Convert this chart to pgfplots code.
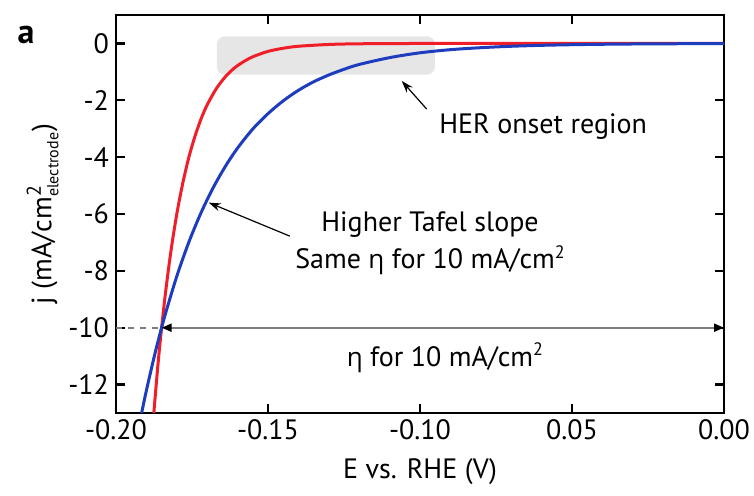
\documentclass[border=0pt]{standalone}
\usepackage{pgfplots}
\pgfplotsset{compat=1.18}
\usepackage{fontspec}
\setmainfont{PT Sans}
\newfontfamily\grk{Open Sans}
\usetikzlibrary{arrows.meta}
\definecolor{cred}{RGB}{240,30,40}
\definecolor{cblue}{RGB}{30,60,190}
\definecolor{boxgray}{RGB}{230,230,230}
\definecolor{arrgray}{RGB}{125,125,125}
\newcommand{\eeta}{{\grk\fontsize{13}{17}\selectfont η}}
\newcommand{\sq}{\raisebox{0.75ex}{\fontsize{9}{9}\selectfont 2}}
\begin{document}
\begin{tikzpicture}[font=\fontsize{14}{17}\selectfont]
\begin{axis}[
  name=ax,
  scale only axis,
  width=304pt, height=199pt,
  xmin=-0.2, xmax=0, ymin=-13, ymax=1,
  axis line style={line width=1.2pt},
  tick style={line width=1.2pt, black},
  tick align=inside,
  major tick length=4.5pt,
  xtick={-0.2,-0.15,-0.1,-0.05,0},
  xticklabels={-0.20,-0.15,-0.10,0.05,0.00},
  ytick={-12,-10,-8,-6,-4,-2,0},
  yticklabels={-12,-10,-8,-6,-4,-2,0},
  xlabel={E vs. RHE (V)},
  ylabel={j (mA/cm$^{\mbox{\fontsize{10}{10}\selectfont 2}}_{\mbox{\fontsize{8}{8}\selectfont electrode}}$)},
  ylabel style={yshift=-2pt},
  xlabel style={yshift=-2pt},
  clip=true,
]
\draw[fill=boxgray, draw=none, rounded corners=4pt] (axis cs:-0.1668,-1.1) rectangle (axis cs:-0.0951,0.25);
\addplot[cred, line width=1.5pt, smooth] coordinates {
(-0.189,-15.04) (-0.188,-13.58) (-0.186,-11.07) (-0.184,-9.03) (-0.182,-7.36)
(-0.180,-6.00) (-0.178,-4.90) (-0.176,-3.99) (-0.174,-3.26) (-0.172,-2.65)
(-0.170,-2.16) (-0.167,-1.59) (-0.164,-1.17) (-0.161,-0.86) (-0.158,-0.64)
(-0.155,-0.47) (-0.150,-0.28) (-0.145,-0.17) (-0.140,-0.10) (-0.130,-0.037)
(-0.120,-0.013) (-0.100,-0.002) (-0.050,0) (0,0)
};
\addplot[cblue, line width=1.5pt, smooth] coordinates {
(-0.194,-14.33) (-0.192,-13.23) (-0.190,-12.21) (-0.187,-10.83) (-0.184,-9.61)
(-0.180,-8.19) (-0.176,-6.98) (-0.172,-5.95) (-0.168,-5.07) (-0.164,-4.32)
(-0.160,-3.68) (-0.155,-3.01) (-0.150,-2.47) (-0.145,-2.02) (-0.140,-1.65)
(-0.135,-1.35) (-0.130,-1.11) (-0.125,-0.91) (-0.120,-0.74) (-0.110,-0.50)
(-0.100,-0.33) (-0.090,-0.22) (-0.080,-0.15) (-0.070,-0.10) (-0.060,-0.067)
(-0.050,-0.045) (-0.040,-0.030) (-0.030,-0.020) (-0.020,-0.014) (-0.010,-0.009)
(0,-0.006)
};
\draw[arrgray, line width=1pt, dash pattern=on 3pt off 3pt] (axis cs:-0.2,-10) -- (axis cs:-0.185,-10);
\draw[arrgray, line width=1pt, {Triangle[black,length=5pt,width=4pt]}-{Triangle[black,length=5pt,width=4pt]}] (axis cs:-0.185,-10) -- (axis cs:0,-10);
\node at (axis cs:-0.0918,-11.05) {\eeta{} for 10 mA/cm\sq};
\node at (axis cs:-0.0967,-6.36) {Higher Tafel slope};
\node at (axis cs:-0.0967,-7.62) {Same \eeta{} for 10 mA/cm\sq};
\draw[black, line width=0.6pt, -{Stealth[length=6pt,width=4pt]}] (axis cs:-0.1428,-6.78) -- (axis cs:-0.1695,-5.6);
\node at (axis cs:-0.0595,-2.94) {HER onset region};
\draw[black, line width=0.6pt, -{Stealth[length=6pt,width=4pt]}] (axis cs:-0.0978,-2.31) -- (axis cs:-0.106,-1.32);
\end{axis}
\node[font=\fontsize{17}{17}\selectfont\bfseries] at ([shift={(-45pt,-10pt)}]ax.north west) {a};
\pgfresetboundingbox
\path ([shift={(-58pt,-41.5pt)}]ax.south west) rectangle ([shift={(15pt,7.5pt)}]ax.north east);
\end{tikzpicture}
\end{document}
